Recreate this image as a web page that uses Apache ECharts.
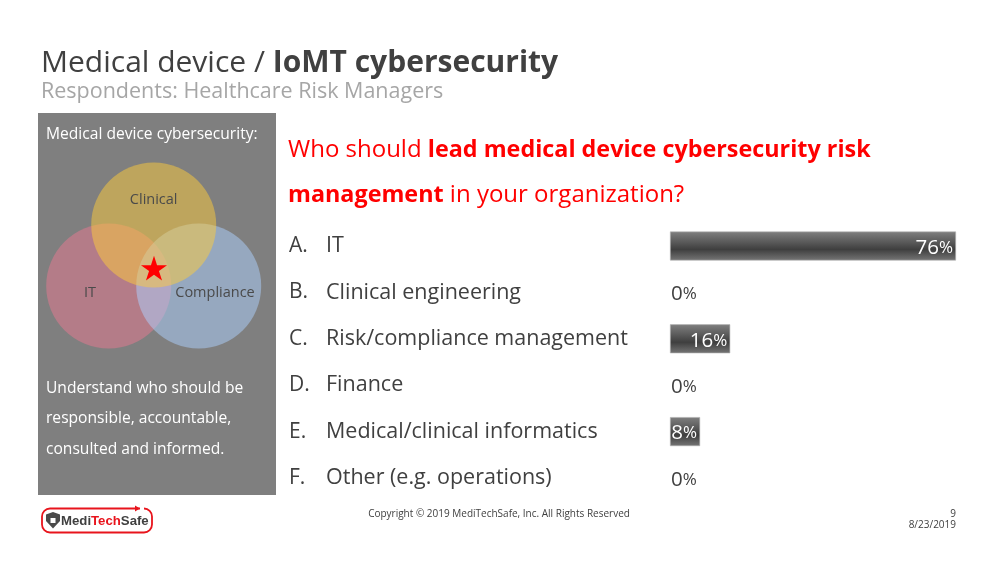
<!DOCTYPE html>
<html>
<head>
<meta charset="utf-8">
<style>html,body{margin:0;padding:0;background:#fff}#main{width:1000px;height:563px}</style>
<script src="https://cdn.jsdelivr.net/npm/echarts@6/dist/echarts.min.js"></script>
</head>
<body>
<div id="main"></div>
<script>
const letters = ['A.', 'B.', 'C.', 'D.', 'E.', 'F.'];
const categories = ['IT', 'Clinical engineering', 'Risk/compliance management', 'Finance', 'Medical/clinical informatics', 'Other (e.g. operations)'];
const shares = [76, 0, 16, 0, 8, 0];

const font = '"Open Sans", "Noto Sans", sans-serif';
const myChart = echarts.init(document.getElementById('main'));

function txt(x, y, text, size, color, extra) {
    return {
        type: 'text', x: x, y: y, z: 5,
        style: Object.assign({ text: text, fontFamily: font, fontSize: size, fill: color, textVerticalAlign: 'middle' }, extra || {})
    };
}
function circle(cx, cy, r, color, z) {
    return { type: 'circle', shape: { cx: cx, cy: cy, r: r }, style: { fill: color, opacity: 0.5 }, z: z };
}
// five point star for the middle of the venn
function starPoints(cx, cy, R) {
    const pts = [];
    for (let i = 0; i < 10; i++) {
        const r = i % 2 ? R * 0.38 : R;
        const a = -Math.PI / 2 + i * Math.PI / 5;
        pts.push([cx + r * Math.cos(a), cy + r * Math.sin(a)]);
    }
    return pts;
}
function mixed(size, boldSize, color) {
    return {
        a: { fontFamily: font, fontSize: size, fill: color },
        b: { fontFamily: font, fontSize: boldSize, fontWeight: 'bold', fill: color }
    };
}

const barFill = new echarts.graphic.LinearGradient(0, 0, 0, 1, [
    { offset: 0, color: '#808080' },
    { offset: 0.62, color: '#3f3f3f' },
    { offset: 1, color: '#757575' }
]);

const graphics = [
    // heading
    txt(41, 63, '{a|Medical device / }{b|IoMT cybersecurity}', 30, '#404040', { rich: mixed(30, 30, '#404040') }),
    txt(41, 92, 'Respondents: Healthcare Risk Managers', 21.5, '#a6a6a6'),
    // left panel
    { type: 'rect', shape: { x: 38, y: 113, width: 238, height: 382 }, style: { fill: '#7f7f7f' }, z: 1 },
    txt(46, 134.5, 'Medical device cybersecurity:', 15.6, '#fff'),
    circle(108.7, 286, 62.5, '#e97991', 2),
    circle(198.7, 286, 62.5, '#add1ff', 3),
    circle(153.7, 225, 62.5, '#fdcc3c', 4),
    { type: 'polygon', shape: { points: starPoints(154, 269.5, 13.7) }, style: { fill: '#ff0000' }, z: 5 },
    txt(153.7, 199.5, 'Clinical', 14.5, '#4a4a4a', { textAlign: 'center' }),
    txt(90, 293, 'IT', 14.5, '#4a4a4a', { textAlign: 'center' }),
    txt(215, 293, 'Compliance', 14.5, '#4a4a4a', { textAlign: 'center' }),
    txt(46, 389, 'Understand who should be', 15.6, '#fff'),
    txt(46, 419, 'responsible, accountable,', 15.6, '#fff'),
    txt(46, 450, 'consulted and informed.', 15.6, '#fff'),
    // question
    txt(288, 150, '{a|Who should }{b|lead medical device cybersecurity risk}', 24, '#ff0000', { rich: mixed(24, 23.35, '#ff0000') }),
    txt(288, 195, '{b|management}{a| in your organization?}', 24, '#ff0000', { rich: mixed(24, 23.35, '#ff0000') }),
    // footer
    txt(499, 514.5, 'Copyright © 2019 MediTechSafe, Inc. All Rights Reserved', 10, '#404040', { textAlign: 'center' }),
    txt(956, 514.5, '9', 10, '#404040', { textAlign: 'right' }),
    txt(956, 525.5, '8/23/2019', 10, '#404040', { textAlign: 'right' }),
    // logo
    { type: 'rect', shape: { x: 42, y: 508.5, width: 110, height: 24, r: 8 }, style: { fill: '#fff', stroke: '#e8141c', lineWidth: 1.8 } },
    { type: 'rect', shape: { x: 140, y: 505, width: 4, height: 6 }, style: { fill: '#fff' }, z: 3 },
    { type: 'polygon', shape: { points: [[135, 505.5], [140, 508.5], [135, 511.5]] }, style: { fill: '#e8141c' }, z: 4 },
    { type: 'polygon', shape: { points: [[46, 514.5], [53, 512], [60, 514.5], [60, 521], [53, 528.5], [46, 521]] }, style: { fill: '#4a4a4a' }, z: 4 },
    { type: 'rect', shape: { x: 50.5, y: 518, width: 5, height: 5 }, style: { fill: '#fff' }, z: 5 },
    txt(61, 521, '{a|Medi}{b|Tech}{a|Safe}', 13.2, '#404040', {
        rich: {
            a: { fontFamily: '"Liberation Sans"', fontSize: 13.2, fontWeight: 'bold', fill: '#404040' },
            b: { fontFamily: '"Liberation Sans"', fontSize: 13.2, fontWeight: 'bold', fill: '#e8141c' }
        }
    })
];

// white label on a bar, dark one next to an empty bar
function shareLabel(v) {
    const color = v > 0 ? '#fff' : '#404040';
    return {
        position: v > 0 ? 'insideRight' : 'right',
        distance: v > 0 ? 3 : 1,
        offset: [0, 2],
        rich: {
            n: { color: color, fontFamily: font, fontSize: 20.5 },
            p: { color: color, fontFamily: font, fontSize: 17 }
        }
    };
}

const option = {
    animation: false,
    backgroundColor: '#fff',
    grid: { left: 670, top: 222.8, width: 286, height: 278.4 },
    xAxis: { type: 'value', min: 0, max: 76, show: false },
    yAxis: {
        type: 'category',
        inverse: true,
        data: categories,
        axisLine: { show: false },
        axisTick: { show: false },
        axisLabel: {
            margin: 381,
            align: 'left',
            formatter: (value, i) => '{l|' + letters[i] + '}{c|' + value + '}',
            rich: {
                l: { width: 37, fontFamily: font, fontSize: 21, color: '#404040' },
                c: { fontFamily: font, fontSize: 21.5, color: '#404040' }
            }
        }
    },
    series: [{
        type: 'bar',
        barWidth: 29,
        label: {
            show: true,
            formatter: (p) => '{n|' + p.value + '}{p|%}'
        },
        data: shares.map((v) => ({
            value: v,
            itemStyle: v > 0
                ? { color: barFill, borderColor: '#b5b5b5', borderWidth: 0.6 }
                : { color: 'transparent', borderWidth: 0 },
            label: shareLabel(v)
        }))
    }],
    graphic: { elements: graphics }
};

myChart.setOption(option);
</script>
</body>
</html>
